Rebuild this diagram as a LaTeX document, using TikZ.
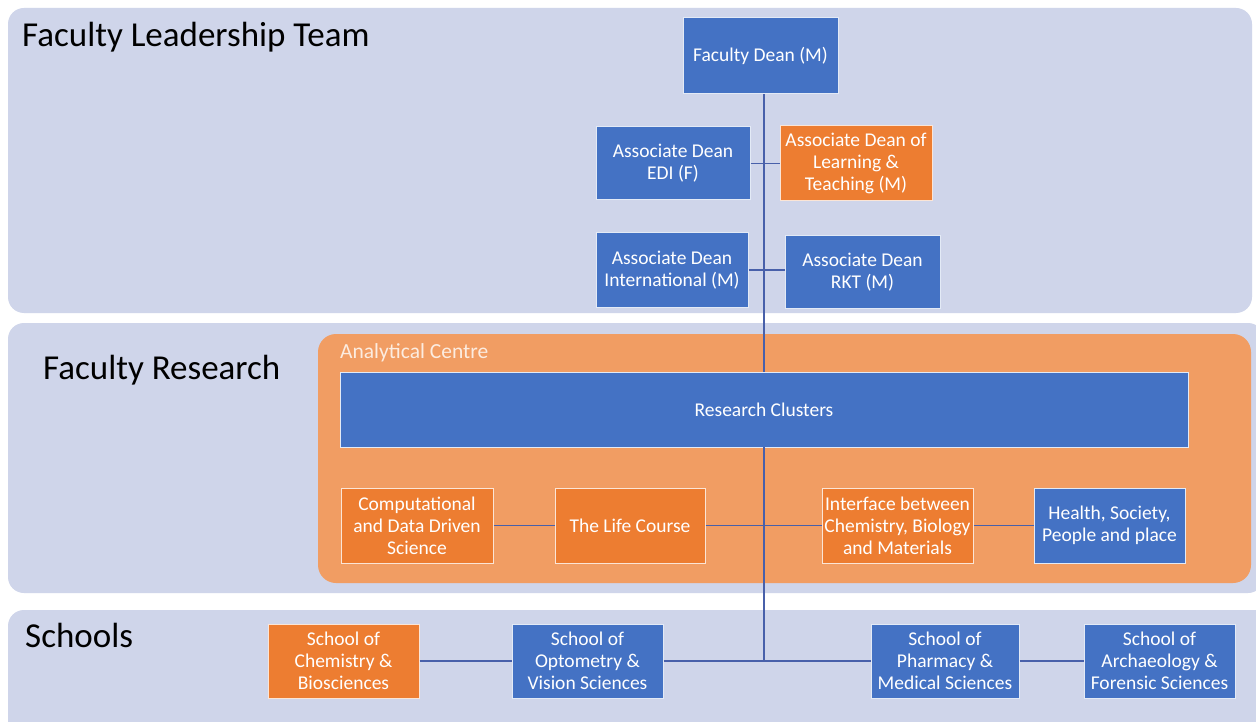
\documentclass[tikz,border=0pt]{standalone}
\usepackage{fontspec}
\setmainfont{Carlito}
\definecolor{band}{RGB}{207,213,234}
\definecolor{bluebox}{RGB}{68,114,196}
\definecolor{orangebox}{RGB}{237,125,49}
\definecolor{anfill}{RGB}{241,157,99}
\definecolor{linec}{RGB}{72,96,170}
\begin{document}
\begin{tikzpicture}[x=1pt,y=-1pt,
  bandbox/.style={fill=band,draw=none,rounded corners=16pt},
  bbox/.style={fill=bluebox,draw=white!85!bluebox,line width=1pt,text=white,align=center,font=\fontsize{19.5}{22}\selectfont,inner sep=0pt},
  obox/.style={bbox,fill=orangebox,draw=white!80!orangebox},
  title/.style={anchor=west,font=\fontsize{35}{40}\selectfont,text=black,inner sep=0pt},
  conn/.style={draw=linec,line width=1.5pt}]
\clip (0,0) rectangle (1256,722);
\fill[white] (0,0) rectangle (1256,722);
% bands
\fill[bandbox] (8,8) rectangle (1252,313);
\fill[bandbox] (8,323) rectangle (1264,593);
\fill[bandbox] (8,610) rectangle (1280,745);
\node[title] (t1) at (22,37) {Faculty Leadership Team};
\node[title] (t2) at (43,370) {Faculty Research};
\node[title] (t3) at (25,635) {Schools};
% analytical centre
\fill[anfill,rounded corners=18pt] (318,334) rectangle (1251,583);
\node[anchor=west,inner sep=0pt,text=white!85!orangebox,font=\fontsize{21.5}{24}\selectfont] (ac) at (340,353) {Analytical Centre};
% boxes
\node[bbox,minimum width=155pt,minimum height=76pt] (dean) at (760.5,56) {Faculty Dean (M)};
\node[bbox,minimum width=154pt,minimum height=73pt] (edi) at (673,163.5) {Associate Dean\\EDI (F)};
\node[obox,minimum width=152pt,minimum height=75pt] (lt) at (856,163.5) {Associate Dean of\\Learning \&\\Teaching (M)};
\node[bbox,minimum width=152pt,minimum height=74pt] (intl) at (672,270) {Associate Dean\\International (M)};
\node[bbox,minimum width=155pt,minimum height=72pt] (rkt) at (862.5,272) {Associate Dean\\RKT (M)};
\node[bbox,minimum width=848pt,minimum height=75pt] (rc) at (764,409.5) {Research Clusters};
\node[obox,minimum width=152pt,minimum height=75pt] (comp) at (417,525.5) {Computational\\and Data Driven\\Science};
\node[obox,minimum width=150pt,minimum height=75pt] (life) at (630,525.5) {The Life Course};
\node[obox,minimum width=151pt,minimum height=75pt] (intf) at (897.5,525.5) {Interface between\\Chemistry, Biology\\and Materials};
\node[bbox,minimum width=151pt,minimum height=75pt] (hlth) at (1109.5,525.5) {Health, Society,\\People and place};
\node[obox,minimum width=151pt,minimum height=74pt] (chem) at (343.5,661) {School of\\Chemistry \&\\Biosciences};
\node[bbox,minimum width=151pt,minimum height=74pt] (opt) at (587.5,661) {School of\\Optometry \&\\Vision Sciences};
\node[bbox,minimum width=148pt,minimum height=74pt] (phar) at (945,661) {School of\\Pharmacy \&\\Medical Sciences};
\node[bbox,minimum width=151pt,minimum height=74pt] (arch) at (1159.5,661) {School of\\Archaeology \&\\Forensic Sciences};
% connectors
\coordinate (j1) at (764,372);
\coordinate (j2) at (764,447);
\coordinate (j3) at (764,661);
\draw[conn] (dean.south -| j1) -- (j1);
\draw[conn] (edi.east) -- (lt.west |- edi.east);
\draw[conn] (intl.east) -- (rkt.west |- intl.east);
\draw[conn] (j2) -- (j3);
\draw[conn] (comp.east) -- (life.west);
\draw[conn] (life.east) -- (intf.west);
\draw[conn] (intf.east) -- (hlth.west);
\draw[conn] (chem.east) -- (opt.west);
\draw[conn] (opt.east) -- (phar.west);
\draw[conn] (phar.east) -- (arch.west);
\end{tikzpicture}
\end{document}
